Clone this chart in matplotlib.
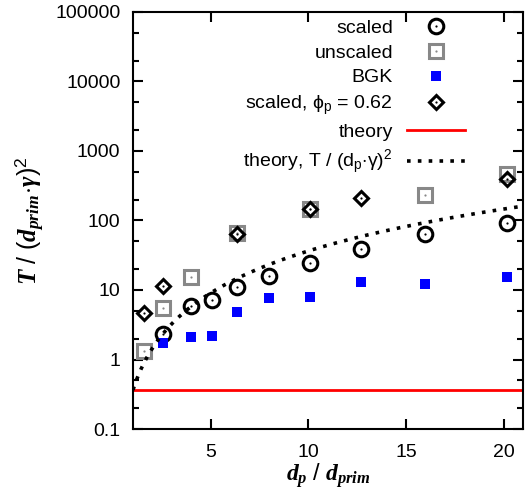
import numpy as np
import matplotlib
matplotlib.use("Agg")
from matplotlib import pyplot as plt
from matplotlib.ticker import LogLocator, NullFormatter, FixedLocator

plt.rcParams["font.family"] = ["Liberation Sans", "DejaVu Sans"]
plt.rcParams["mathtext.fontset"] = "custom"
plt.rcParams["mathtext.rm"] = "Liberation Sans"
plt.rcParams["mathtext.it"] = "Liberation Serif:italic:bold"
plt.rcParams["mathtext.bf"] = "Liberation Serif:bold"

# particle diameter ratios d_p / d_prim
dp_scaled = [2.52, 4.0, 5.04, 6.35, 8.0, 10.08, 12.7, 16.0, 20.16]
T_scaled = [2.33, 5.8, 7.2, 11.2, 15.9, 24.7, 38.5, 63.4, 93.0]

dp_unscaled = [1.59, 2.52, 4.0, 6.35, 10.08, 16.0, 20.16]
T_unscaled = [1.34, 5.6, 15.5, 66.0, 145.0, 233.0, 467.0]

dp_bgk = [2.52, 4.0, 5.04, 6.35, 8.0, 10.08, 12.7, 16.0, 20.16]
T_bgk = [1.75, 2.13, 2.18, 4.88, 7.74, 8.0, 12.9, 12.1, 15.5]

dp_dense = [1.59, 2.52, 6.35, 10.08, 12.7, 20.16]
T_dense = [4.6, 11.4, 63.0, 145.0, 208.0, 392.0]

T_theory = 0.365

fig = plt.figure(figsize=(5.25, 4.93), dpi=100)
ax = fig.add_axes((0.2533, 0.1298, 0.7429, 0.8459))


def dotted_marker(x, y, marker, color, ms):
    ring, = ax.plot(x, y, ls="none", marker=marker, ms=ms, mfc="none",
                    mec=color, mew=2.2)
    dot, = ax.plot(x, y, ls="none", marker="o", ms=1.6, mfc=color,
                   mec=color, mew=0)
    return ring, dot


h_scaled = dotted_marker(dp_scaled, T_scaled, "o", "black", 10.5)
h_unscaled = dotted_marker(dp_unscaled, T_unscaled, "s", "#888888", 10.0)
h_bgk, = ax.plot(dp_bgk, T_bgk, ls="none", marker="s", ms=6.5, color="blue",
                 mew=0)
h_dense = dotted_marker(dp_dense, T_dense, "D", "black", 7.5)

h_theory = ax.axhline(T_theory, color="red", lw=2)
xs = np.linspace(1, 21, 200)
h_curve, = ax.plot(xs, T_theory * xs**2, color="black", lw=2.6,
                   ls=(0, (1, 2)))

ax.set_xlim(1, 21)
ax.set_yscale("log")
ax.set_ylim(0.1, 100000)
ax.xaxis.set_major_locator(FixedLocator([5, 10, 15, 20]))
ax.yaxis.set_major_locator(FixedLocator([0.1, 1, 10, 100, 1000, 10000, 100000]))
ax.yaxis.set_minor_locator(LogLocator(base=10, subs=(2, 5), numticks=20))
ax.yaxis.set_minor_formatter(NullFormatter())
ax.set_yticklabels(["0.1", "1", "10", "100", "1000", "10000", "100000"])

ax.tick_params(which="both", direction="in", top=True, right=True,
               width=1.5, labelsize=14)
ax.tick_params(which="major", length=7)
ax.tick_params(which="minor", length=4)
ax.tick_params(axis="y", pad=9)
ax.tick_params(axis="x", pad=11)
for sp in ax.spines.values():
    sp.set_linewidth(1.5)

ax.set_xlabel(r"$d_p\ /\ d_{prim}$", fontsize=17, labelpad=0)
ax.set_ylabel(r"$T\ /\ (d_{prim}\!\cdot\!\gamma)^2$", fontsize=18, labelpad=6)

handles = [h_scaled, h_unscaled, h_bgk, h_dense, h_theory, h_curve]
labels = [
    "scaled",
    "unscaled",
    "BGK",
    r"scaled, $\mathrm{\phi_p}$ = 0.62",
    "theory",
    r"theory, T / $\mathrm{(d_p{\cdot}\gamma)^2}$",
]
ax.legend(handles, labels, loc="upper right", bbox_to_anchor=(0.851, 0.982),
          frameon=False, markerfirst=False, fontsize=14, handlelength=3,
          handletextpad=0.7, labelspacing=0.36, borderpad=0, borderaxespad=0)

fig.savefig("out.png", dpi=100)
